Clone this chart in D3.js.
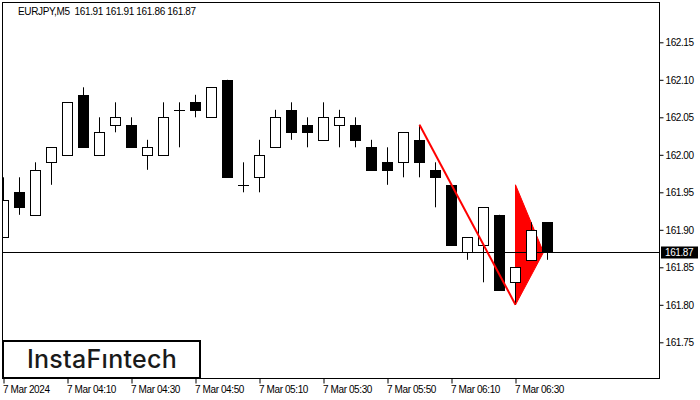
<!DOCTYPE html>
<html>
<head>
<meta charset="utf-8">
<script src="https://cdn.jsdelivr.net/npm/d3@7/dist/d3.min.js"></script>
<style>
  html, body { margin: 0; padding: 0; background: #fff; }
  svg { display: block; }
  text { font-family: "Liberation Sans", Arial, sans-serif; }
</style>
</head>
<body>
<svg id="chart" width="700" height="400"></svg>
<script>
// ---- data ----
const symbolTitle = "EURJPY,M5  161.91 161.91 161.86 161.87";
const times = ["03:50","03:55","04:00","04:05","04:10","04:15","04:20","04:25","04:30","04:35",
               "04:40","04:45","04:50","04:55","05:00","05:05","05:10","05:15","05:20","05:25",
               "05:30","05:35","05:40","05:45","05:50","05:55","06:00","06:05","06:10","06:15",
               "06:20","06:25","06:30","06:35","06:40"];
const open  = [161.89,161.95,161.92,161.99,162.00,162.08,162.00,162.04,162.04,162.00,
               162.00,162.06,162.07,162.05,162.10,161.96,161.97,162.01,162.06,162.04,
               162.02,162.04,162.04,162.01,161.99,161.99,162.02,161.98,161.96,161.87,
               161.88,161.92,161.83,161.86,161.91];
const high  = [161.97,161.97,161.99,162.01,162.07,162.09,162.05,162.07,162.05,162.02,
               162.07,162.07,162.08,162.09,162.10,161.99,162.02,162.06,162.07,162.05,
               162.07,162.06,162.05,162.02,162.01,162.03,162.04,161.99,161.96,161.89,
               161.93,161.92,161.85,161.91,161.91];
const low   = [161.89,161.92,161.92,161.96,162.00,162.01,162.00,162.03,162.01,161.98,
               162.00,162.01,162.05,162.05,161.97,161.95,161.95,162.01,162.02,162.01,
               162.02,162.01,162.01,161.98,161.96,161.97,161.97,161.93,161.88,161.86,
               161.83,161.82,161.80,161.86,161.86];
const close = [161.94,161.93,161.98,162.01,162.07,162.01,162.03,162.05,162.01,162.01,
               162.05,162.06,162.06,162.09,161.97,161.96,162.00,162.05,162.03,162.03,
               162.05,162.05,162.02,161.98,161.98,162.03,161.99,161.97,161.88,161.89,
               161.93,161.82,161.85,161.90,161.87];
const priceTicks = [161.75,161.80,161.85,161.90,161.95,162.00,162.05,162.10,162.15];
const timeTickIdx = [0,4,8,12,16,20,24,28,32];
const timeTickLabels = ["7 Mar 2024","7 Mar 04:10","7 Mar 04:30","7 Mar 04:50","7 Mar 05:10",
                        "7 Mar 05:30","7 Mar 05:50","7 Mar 06:10","7 Mar 06:30"];
const currentPrice = 161.87;
// pattern: pole line [index, price] and pennant triangle
const poleLine = [[26,162.04],[32,161.80]];
const pennant = [[32,161.96],[32,161.80],[33.75,161.87]];
const logoText = "InstaF\u0131ntech";

// ---- layout ----
const svg = d3.select("#chart");
const plot = {left: 2.5, right: 659.5, top: 2.5, bottom: 378.5};

const x = d3.scaleLinear().domain([0, 34]).range([3.5, 547.5]);
const y = d3.scaleLinear().domain([161.75, 162.15]).range([342.3, 42.3]);

const candles = times.map((t, i) => ({i, t, o: open[i], h: high[i], l: low[i], c: close[i]}));

// frame
svg.append("rect")
  .attr("x", plot.left).attr("y", plot.top)
  .attr("width", plot.right - plot.left).attr("height", plot.bottom - plot.top)
  .attr("fill", "#fff").attr("stroke", "#000").attr("stroke-width", 1);

svg.append("clipPath").attr("id", "clip").append("rect")
  .attr("x", plot.left + 0.5).attr("y", plot.top + 0.5)
  .attr("width", plot.right - plot.left - 1).attr("height", plot.bottom - plot.top - 1);

const g = svg.append("g").attr("clip-path", "url(#clip)");

// pennant triangle (behind candles)
g.append("path")
  .attr("d", d3.line().x(d => x(d[0])).y(d => y(d[1]))(pennant) + "Z")
  .attr("fill", "#ff0000").attr("stroke", "#ff0000").attr("stroke-width", 1);

// current price line
g.append("line")
  .attr("x1", plot.left).attr("x2", plot.right)
  .attr("y1", Math.round(y(currentPrice)) + 0.5).attr("y2", Math.round(y(currentPrice)) + 0.5)
  .attr("stroke", "#000").attr("stroke-width", 1);

// candles
const cg = g.append("g");
const bw = 10;
candles.forEach(d => {
  const cx = Math.round(x(d.i) - 0.5) + 0.5;
  cg.append("line")
    .attr("x1", cx).attr("x2", cx)
    .attr("y1", y(d.h)).attr("y2", y(d.l))
    .attr("stroke", "#000").attr("stroke-width", 1);
  const top = y(Math.max(d.o, d.c)), bot = y(Math.min(d.o, d.c));
  if (bot - top < 1) {
    cg.append("line")
      .attr("x1", cx - bw / 2 - 0.5).attr("x2", cx + bw / 2 + 0.5)
      .attr("y1", Math.round(top) + 0.5).attr("y2", Math.round(top) + 0.5)
      .attr("stroke", "#000").attr("stroke-width", 1);
  } else {
    cg.append("rect")
      .attr("x", cx - bw / 2).attr("width", bw)
      .attr("y", Math.round(top) + 0.5).attr("height", Math.round(bot) - Math.round(top))
      .attr("fill", d.c >= d.o ? "#fff" : "#000")
      .attr("stroke", "#000").attr("stroke-width", 1);
  }
});

// pole line (on top)
g.append("path")
  .attr("d", d3.line().x(d => x(d[0])).y(d => y(d[1]))(poleLine))
  .attr("fill", "none").attr("stroke", "#ff0000").attr("stroke-width", 2);

// right axis
const yAxis = d3.axisRight(y).tickValues(priceTicks).tickFormat(d3.format(".2f")).tickSize(4).tickPadding(2);
const ya = svg.append("g").attr("transform", `translate(${plot.right},0)`).call(yAxis);
ya.select(".domain").remove();
ya.selectAll("line").attr("stroke", "#000");
ya.selectAll("text").attr("fill", "#000").style("font-size", "10px").style("letter-spacing", "-0.4px")
  .style("font-family", '"Liberation Sans", Arial, sans-serif');

// current price label
const cpY = Math.round(y(currentPrice)) + 0.5;
svg.append("rect").attr("x", 661).attr("y", cpY - 6).attr("width", 37).attr("height", 12).attr("fill", "#000");
svg.append("text").attr("x", 665).attr("y", cpY).attr("dy", "0.35em")
  .attr("fill", "#fff").style("font-size", "10px").style("letter-spacing", "-0.4px")
  .text(d3.format(".2f")(currentPrice));

// bottom axis
const xAxis = d3.axisBottom(x).tickValues(timeTickIdx).tickFormat((d, k) => timeTickLabels[k]).tickSize(5).tickPadding(2);
const xa = svg.append("g").attr("transform", `translate(0,${plot.bottom})`).call(xAxis);
xa.select(".domain").remove();
xa.selectAll(".tick line").attr("stroke", "#000");
xa.selectAll("text").attr("fill", "#000").attr("text-anchor", "start").attr("x", -1)
  .style("font-size", "10px").style("letter-spacing", "-0.4px")
  .style("font-family", '"Liberation Sans", Arial, sans-serif');

// title
svg.append("text").attr("x", 18).attr("y", 15).attr("fill", "#000")
  .style("font-size", "10px").style("letter-spacing", "-0.35px")
  .style("white-space", "pre")
  .text(symbolTitle);

// logo
svg.append("rect").attr("x", 3).attr("y", 341).attr("width", 197).attr("height", 37)
  .attr("fill", "#fff").attr("stroke", "#000").attr("stroke-width", 2);
svg.append("text").attr("x", 102).attr("y", 368).attr("text-anchor", "middle")
  .attr("fill", "#1a1a1a").style("font-family", 'Inter, "Open Sans", sans-serif')
  .style("font-size", "25px").style("font-weight", 500).style("letter-spacing", "0.3px")
  .text(logoText);
</script>
</body>
</html>
